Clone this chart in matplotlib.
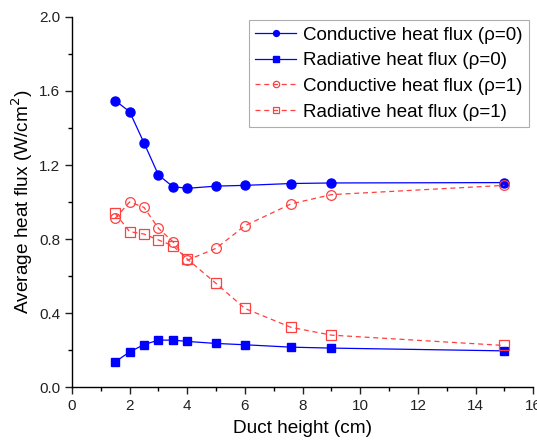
import matplotlib
matplotlib.use('Agg')
import matplotlib.pyplot as plt
from matplotlib.ticker import MultipleLocator

plt.rcParams['font.family'] = ['Liberation Sans', 'DejaVu Sans']

# duct height (cm)
height = [1.5, 2, 2.5, 3, 3.5, 4, 5, 6, 7.6, 9, 15]

# average heat flux (W/cm2)
cond_rho0 = [1.548, 1.488, 1.319, 1.146, 1.083, 1.074, 1.086, 1.090, 1.100, 1.103, 1.105]
rad_rho0 = [0.137, 0.190, 0.230, 0.254, 0.254, 0.247, 0.236, 0.229, 0.216, 0.211, 0.196]
cond_rho1 = [0.912, 1.000, 0.971, 0.858, 0.786, 0.686, 0.750, 0.872, 0.990, 1.040, 1.090]
rad_rho1 = [0.939, 0.840, 0.827, 0.795, 0.764, 0.692, 0.560, 0.425, 0.323, 0.281, 0.225]

fig = plt.figure(figsize=(5.37, 4.45), dpi=100)
ax = fig.add_axes([0.134, 0.130, 0.859, 0.832])

ax.plot(height, cond_rho0, '-o', color='blue', lw=0.9, ms=6.5,
        label='Conductive heat flux (\u03c1=0)')
ax.plot(height, rad_rho0, '-s', color='blue', lw=0.9, ms=6,
        label='Radiative heat flux (\u03c1=0)')
ax.plot(height, cond_rho1, '--o', color='#ff4040', lw=0.9, ms=7,
        mfc='none', mew=0.9, dashes=(4, 3), label='Conductive heat flux (\u03c1=1)')
ax.plot(height, rad_rho1, '--s', color='#ff4040', lw=0.9, ms=6.5,
        mfc='none', mew=0.9, dashes=(4, 3), label='Radiative heat flux (\u03c1=1)')

ax.set_xlim(0, 16)
ax.set_ylim(0, 2.0)
ax.xaxis.set_major_locator(MultipleLocator(2))
ax.xaxis.set_minor_locator(MultipleLocator(1))
ax.yaxis.set_major_locator(MultipleLocator(0.4))
ax.yaxis.set_minor_locator(MultipleLocator(0.2))
ax.yaxis.set_major_formatter(matplotlib.ticker.FormatStrFormatter('%.1f'))

for s in ['top', 'right']:
    ax.spines[s].set_visible(False)
for s in ['left', 'bottom']:
    ax.spines[s].set_linewidth(1.0)
ax.tick_params(which='major', direction='out', length=5, width=1, labelsize=11, colors='#222222')
ax.tick_params(which='minor', direction='out', length=3, width=1)

ax.set_xlabel('Duct height (cm)', fontsize=13.7, labelpad=5)
ax.set_ylabel('Average heat flux (W/cm$^2$)', fontsize=13.7, labelpad=3)

leg = ax.legend(loc='upper right', fontsize=13.5, frameon=True, fancybox=False,
                edgecolor='#999999', handlelength=2.2, borderpad=0.35, markerscale=0.65,
                labelspacing=0.46, handletextpad=0.35, borderaxespad=0,
                bbox_to_anchor=(0.991, 0.992))
leg.get_frame().set_linewidth(0.8)

fig.savefig('out.png', dpi=100)
